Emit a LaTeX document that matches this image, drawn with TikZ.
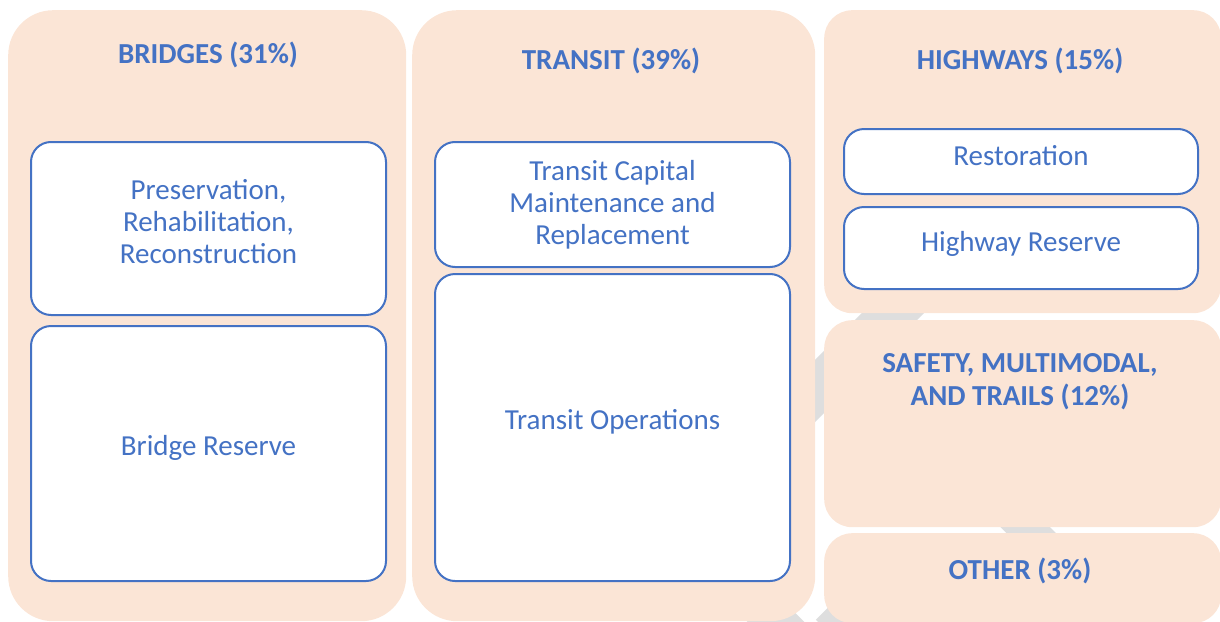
\documentclass[tikz,border=0pt]{standalone}
\usepackage{fontspec}
\setmainfont{Carlito}
\usepackage{tikz}
\usetikzlibrary{positioning}
\definecolor{peach}{HTML}{FBE5D6}
\definecolor{accentblue}{HTML}{4472C4}
\definecolor{bandgray}{HTML}{DEDEDE}

\begin{document}
\begin{tikzpicture}[
    x=1pt, y=-1pt,
    panel/.style={rectangle, fill=peach, rounded corners=45pt, anchor=north west, inner sep=0pt},
    smallpanel/.style={panel, rounded corners=28pt},
    item/.style={rectangle, draw=accentblue, fill=white, line width=2pt, rounded corners=20pt, anchor=north west,
                 align=center, text=accentblue, font=\fontsize{29}{32}\selectfont},
    lift/.style={text depth=#1},
    title/.style={text=accentblue, align=center, inner sep=0pt, font=\fontsize{29}{33}\selectfont\bfseries},
    band/.style={draw=bandgray, line cap=butt}
  ]
  \useasboundingbox (0,0) rectangle (1220,621);
  \clip (0,0) rectangle (1220,621);

  % faint arrows behind the panels
  \draw [band, line width=44pt] (960,246) -- (740,466);
  \draw [band, line width=35pt] (990,492) -- (1066,568);
  \draw [band, line width=40pt] (720,566) -- (800,646);
  \draw [band, line width=40pt] (900,564) -- (830,634);

  % panels
  \node (bridges) [panel, minimum width=398pt, minimum height=611pt] at (8,10) {};
  \node (transit) [panel, minimum width=403pt, minimum height=611pt] at (412,10) {};
  \node (highways) [smallpanel, minimum width=397pt, minimum height=303pt] at (824,10) {};
  \node (safety) [smallpanel, minimum width=397pt, minimum height=207pt] at (824,320) {};
  \node (other) [smallpanel, minimum width=397pt, minimum height=90pt] at (824,533) {};

  % titles
  \node (bridgestitle) [title] at (208,55) {BRIDGES (31\%)};
  \node (transittitle) [title] at (611,61) {TRANSIT (39\%)};
  \node (highwaystitle) [title] at (1020,61) {HIGHWAYS (15\%)};
  \node (safetytitle) [title] at (1020,382) {SAFETY, MULTIMODAL,\\AND TRAILS (12\%)};
  \node (othertitle) [title] at (1020,571) {OTHER (3\%)};

  % items
  \node (preservation) [item, lift=14pt, minimum width=355pt, minimum height=173pt] at (30,141)
    {Preservation,\\Rehabilitation,\\Reconstruction};
  \node (bridgereserve) [item, lift=16pt, minimum width=355pt, minimum height=255pt] at (30,325) {Bridge Reserve};
  \node (capital) [item, minimum width=355pt, minimum height=125pt] at (434,141)
    {Transit Capital\\Maintenance and\\Replacement};
  \node (operations) [item, lift=16pt, minimum width=355pt, minimum height=307pt] at (434,273) {Transit Operations};
  \node (restoration) [item, lift=12pt, minimum width=354pt, minimum height=65pt] at (843,128) {Restoration};
  \node (highwayreserve) [item, lift=14pt, minimum width=354pt, minimum height=82pt] at (843,206) {Highway Reserve};
\end{tikzpicture}
\end{document}
